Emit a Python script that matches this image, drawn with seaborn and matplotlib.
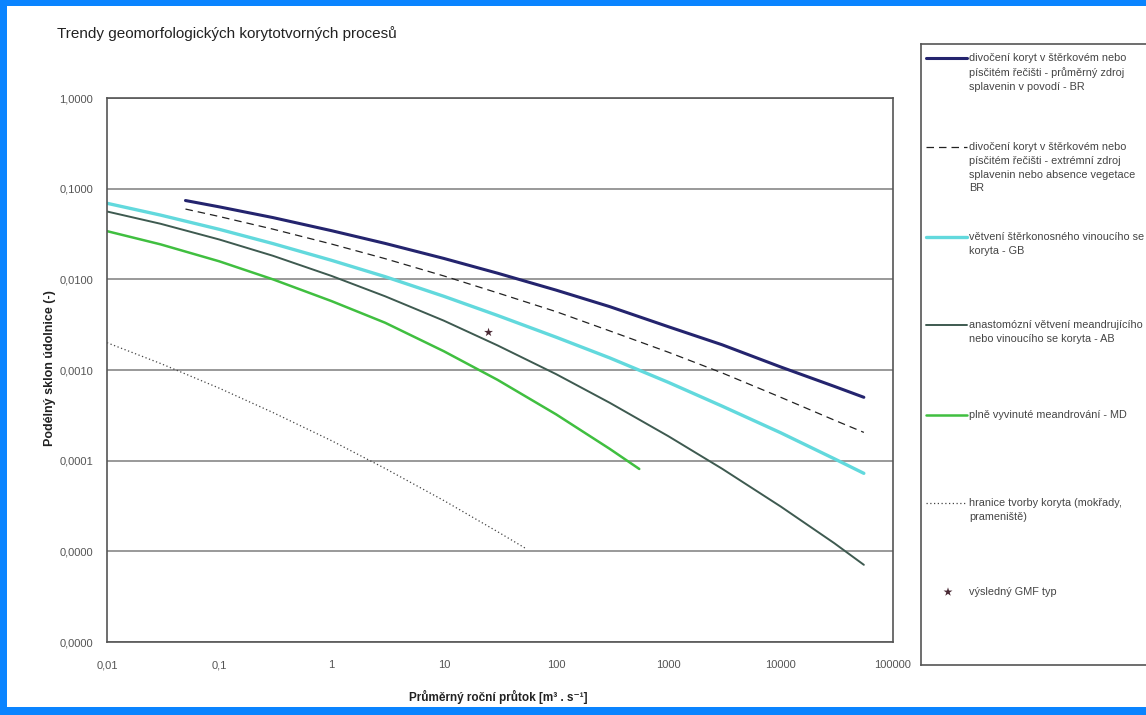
import numpy as np
import pandas as pd
import seaborn as sns
import matplotlib.pyplot as plt
from matplotlib.patches import Rectangle
from matplotlib.lines import Line2D
from matplotlib.ticker import FixedLocator, FixedFormatter, NullLocator

sns.set_style("white")
plt.rcParams['font.family'] = ['Liberation Sans', 'DejaVu Sans']

## values (x = mean annual discharge, y = valley slope)
br_x = [0.05, 0.1, 0.3, 1, 3, 10, 30, 100, 300, 1000, 3000, 10000, 30000, 55000]
br_y = [0.074, 0.063, 0.048, 0.0344, 0.0249, 0.0170, 0.0117, 0.0076, 0.0050, 0.0030,
        0.0019, 0.00108, 0.00066, 0.0005]

brx_x = [0.05, 0.1, 0.3, 1, 3, 10, 30, 100, 300, 1000, 3000, 10000, 30000, 55000]
brx_y = [0.0596, 0.0493, 0.0358, 0.0245, 0.0169, 0.0109, 0.0071, 0.0044, 0.0027, 0.00157,
         0.00093, 0.0005, 0.00028, 0.000205]

gb_x = [0.01, 0.03, 0.1, 0.3, 1, 3, 10, 30, 100, 300, 1000, 3000, 10000, 30000, 55000]
gb_y = [0.069, 0.0511, 0.0356, 0.0248, 0.0162, 0.0107, 0.0065, 0.0040, 0.0023, 0.00136,
        0.00073, 0.0004, 0.000203, 0.000105, 0.0000725]

ab_x = [0.01, 0.03, 0.1, 0.3, 1, 3, 10, 30, 100, 300, 1000, 3000, 10000, 30000, 55000]
ab_y = [0.056, 0.041, 0.0275, 0.0182, 0.0109, 0.0065, 0.0035, 0.00187, 0.0009, 0.000435,
        0.000186, 0.0000816, 0.0000312, 0.0000123, 0.0000071]

md_x = [0.01, 0.03, 0.1, 0.3, 1, 3, 10, 30, 100, 300, 550]
md_y = [0.034, 0.0243, 0.0158, 0.0100, 0.00575, 0.00332, 0.00161, 0.00078, 0.000324,
        0.000135, 0.000081]

bound_x = [0.01, 0.03, 0.1, 0.3, 1, 3, 10, 30, 54]
bound_y = [0.002, 0.00118, 0.00063, 0.00034, 0.000166, 0.000082, 0.0000363, 0.0000165,
           0.0000107]

gmf_x = [25]
gmf_y = [0.0026]

x_ticks = [0.01, 0.1, 1, 10, 100, 1000, 10000, 100000]
x_ticklabels = ['0,01', '0,1', '1', '10', '100', '1000', '10000', '100000']
y_ticks = [1e-6, 1e-5, 1e-4, 1e-3, 1e-2, 1e-1, 1]
y_ticklabels = ['0,0000', '0,0000', '0,0001', '0,0010', '0,0100', '0,1000', '1,0000']

labels = [
    'divočení koryt v štěrkovém nebo\npísčitém řečišti - průměrný zdroj\nsplavenin v povodí - BR',
    'divočení koryt v štěrkovém nebo\npísčitém řečišti - extrémní zdroj\nsplavenin nebo absence vegetace\nBR',
    'větvení štěrkonosného vinoucího se\nkoryta - GB',
    'anastomózní větvení meandrujícího\nnebo vinoucího se koryta - AB',
    'plně vyvinuté meandrování - MD',
    'hranice tvorby koryta (mokřady,\nprameniště)',
    'výsledný GMF typ',
]

W, H = 1146, 715
fig = plt.figure(figsize=(W / 100, H / 100), dpi=100)
fig.patch.set_facecolor('#0a84ff')
# white panel inside the blue frame
fig.patches.append(Rectangle((7 / W, 8 / H), 1, 1 - 14 / H, transform=fig.transFigure,
                             facecolor='white', edgecolor='none', zorder=-1))

ax = fig.add_axes([107 / W, 73 / H, 786 / W, 544 / H])
ax.set_zorder(2)
ax.set_xscale('log')
ax.set_yscale('log')

styles = [
    (br_x, br_y, dict(color='#24246e', linewidth=2.2)),
    (brx_x, brx_y, dict(color='#222222', linewidth=0.9, dashes=(6, 4))),
    (gb_x, gb_y, dict(color='#62d9dd', linewidth=2.4)),
    (ab_x, ab_y, dict(color='#3e5a50', linewidth=1.4)),
    (md_x, md_y, dict(color='#40bf40', linewidth=1.8)),
    (bound_x, bound_y, dict(color='#444444', linewidth=0.9, linestyle=(0, (1, 2)))),
]
for xs, ys, kw in styles:
    sns.lineplot(x=xs, y=ys, ax=ax, **kw)

sns.scatterplot(x=gmf_x, y=gmf_y, ax=ax, marker='*', s=45, color='#4a2a35', edgecolor='none', zorder=5)

ax.set_xlim(0.01, 100000)
ax.set_ylim(1e-6, 1)
ax.xaxis.set_major_locator(FixedLocator(x_ticks))
ax.xaxis.set_major_formatter(FixedFormatter(x_ticklabels))
ax.yaxis.set_major_locator(FixedLocator(y_ticks))
ax.yaxis.set_major_formatter(FixedFormatter(y_ticklabels))
ax.xaxis.set_minor_locator(NullLocator())
ax.yaxis.set_minor_locator(NullLocator())
ax.tick_params(axis='both', direction='out', length=5, width=1, color='#555555',
               labelsize=8, labelcolor='#555555')
ax.tick_params(axis='x', pad=8)
ax.tick_params(axis='y', pad=5)
ax.grid(True, axis='y', color='#888888', linewidth=1.2)
ax.grid(False, axis='x')
for sp in ax.spines.values():
    sp.set_color('#555555')
    sp.set_linewidth(1.2)

fig.text(57 / W, 1 - 34 / H, 'Trendy geomorfologických korytotvorných procesů',
         fontsize=11, color='#222222', ha='left', va='center')
fig.text(498 / W, 1 - 697 / H, 'Průměrný roční průtok [m³ . s⁻¹]',
         fontsize=8.5, fontweight='bold', color='#222222', ha='center', va='center')
fig.text(50 / W, 1 - 368 / H, 'Podélný sklon údolnice (-)', rotation=90,
         fontsize=9, fontweight='bold', color='#222222', ha='center', va='center')

# legend panel, drawn in pixel units (y grows downward like the picture)
lg = fig.add_axes([921 / W, 50 / H, 260 / W, 621 / H])
lg.set_zorder(2)
lg.set_xlim(921, 1181)
lg.set_ylim(665, 44)
lg.set_xticks([])
lg.set_yticks([])
lg.set_facecolor('white')
for sp in lg.spines.values():
    sp.set_color('#555555')
    sp.set_linewidth(1.2)

entry_y = [58, 147, 237, 325, 415, 503, 592]
for i, (lab, y) in enumerate(zip(labels, entry_y)):
    if i < 6:
        lg.add_line(Line2D([926, 967], [y, y], **styles[i][2]))
    else:
        lg.scatter([948], [y], marker='*', s=45, color='#4a2a35', edgecolor='none')
    lg.text(969, y - 4.5, lab, fontsize=7.8, color='#444444', ha='left', va='top',
            linespacing=1.45)

fig.savefig('out.png', dpi=100, facecolor=fig.get_facecolor())
